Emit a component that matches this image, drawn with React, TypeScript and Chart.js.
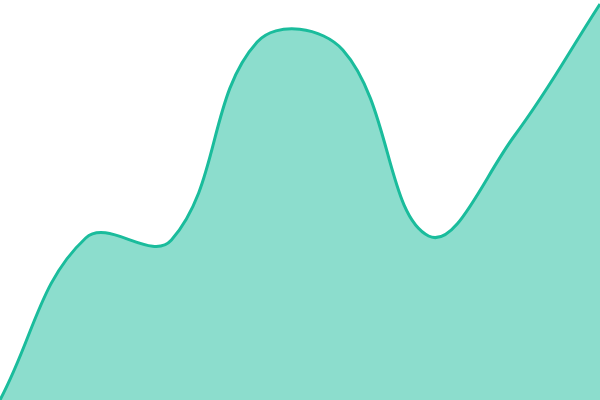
import React, { useRef, useEffect } from 'react';
import { Chart, registerables } from 'chart.js';

Chart.register(...registerables);

// data (y axis 0..100, hidden)
const labels = ['Jan', 'Feb', 'Mar', 'Apr', 'May', 'Jun', 'Jul', 'Aug'];
const values = [0, 40.5, 40, 89.5, 87.5, 41, 66, 99];
const yMin = 0;
const yMax = 100;

const App: React.FC = () => {
    const chartRef = useRef<HTMLCanvasElement>(null);

    useEffect(() => {
        if (!chartRef.current) return;

        const myChart = new Chart(chartRef.current, {
            type: 'line',
            data: {
                labels: labels,
                datasets: [{
                    label: 'Series',
                    data: values,
                    borderColor: '#1abc9c',
                    backgroundColor: 'rgba(26, 188, 156, 0.5)',
                    borderWidth: 3,
                    fill: true,
                    tension: 0.4,
                    pointRadius: 0,
                }]
            },
            options: {
                animation: false,
                responsive: true,
                maintainAspectRatio: false,
                layout: { padding: 0 },
                plugins: {
                    legend: { display: false },
                    tooltip: { enabled: false },
                },
                scales: {
                    x: { display: false },
                    y: { display: false, min: yMin, max: yMax },
                }
            }
        });

        return () => {
            myChart.destroy(); // Clean up
        };
    }, []);

    return (
        <div style={{ position: 'fixed', left: 0, top: 0, width: 600, height: 400, background: '#fff' }}>
            <canvas ref={chartRef} />
        </div>
    );
};

export default App;
